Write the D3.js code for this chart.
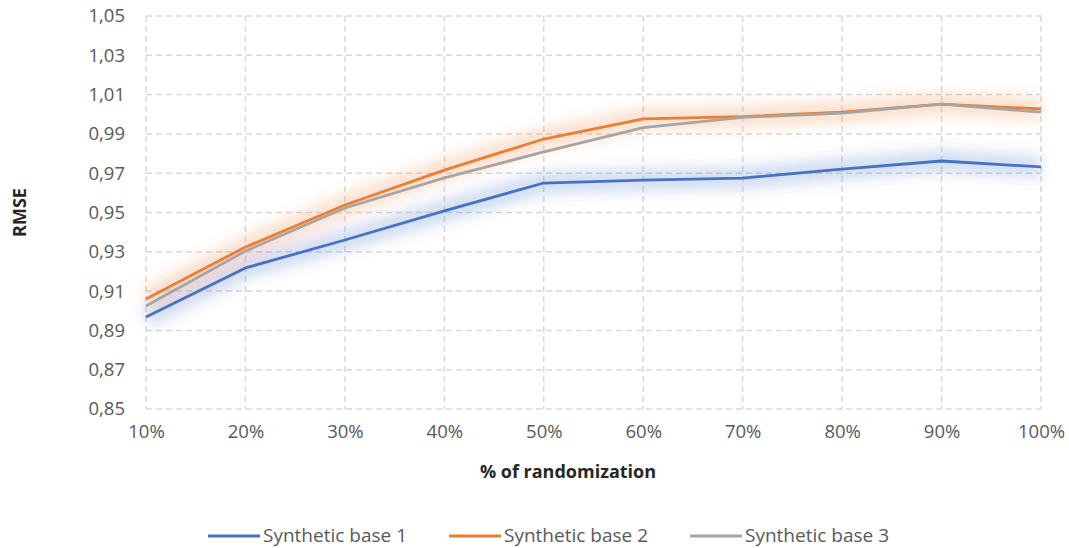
<!DOCTYPE html>
<html>
<head>
<meta charset="utf-8">
<script src="https://cdn.jsdelivr.net/npm/d3@7/dist/d3.min.js"></script>
<style>
  html, body { margin: 0; padding: 0; background: #fff; }
  svg { display: block; font-family: "Open Sans", "Noto Sans", sans-serif; }
</style>
</head>
<body>
<svg id="chart" width="1069" height="548"></svg>
<script>
// Randomization levels along the x axis
const categories = ["10%", "20%", "30%", "40%", "50%", "60%", "70%", "80%", "90%", "100%"];

// RMSE per randomization level
const base1 = [0.8968, 0.9218, 0.9360, 0.9508, 0.9650, 0.9665, 0.9675, 0.9721, 0.9762, 0.9732];
const base2 = [0.9060, 0.9324, 0.9538, 0.9716, 0.9874, 0.9976, 0.9988, 1.0011, 1.0052, 1.0027];
const base3 = [0.9024, 0.9304, 0.9523, 0.9676, 0.9808, 0.9932, 0.9984, 1.0006, 1.0052, 1.0011];

const seriesNames = ["Synthetic base 1", "Synthetic base 2", "Synthetic base 3"];
const seriesColors = ["#4472C4", "#ED7D31", "#A5A5A5"];

const yTicks = [0.85, 0.87, 0.89, 0.91, 0.93, 0.95, 0.97, 0.99, 1.01, 1.03, 1.05];

const series = [base1, base2, base3].map((values, i) => ({
  name: seriesNames[i], color: seriesColors[i], values
}));

const svg = d3.select("#chart");
const plot = { left: 146, right: 1041, top: 16, bottom: 409 };

const x = d3.scalePoint().domain(categories).range([plot.left, plot.right]);
const y = d3.scaleLinear().domain([0.85, 1.05]).range([plot.bottom, plot.top]);

const fmt = v => d3.format(".2f")(v).replace(".", ",");

// Soft glow behind the lines
const defs = svg.append("defs");
defs.append("filter").attr("id", "glow")
  .attr("x", "-10%").attr("y", "-60%").attr("width", "120%").attr("height", "220%")
  .append("feGaussianBlur").attr("stdDeviation", 7);

// Dashed grid (horizontal)
svg.append("g")
  .selectAll("line").data(yTicks).join("line")
  .attr("x1", plot.left).attr("x2", plot.right)
  .attr("y1", d => y(d)).attr("y2", d => y(d))
  .attr("stroke", "#d9d9d9").attr("stroke-width", 1.5)
  .attr("stroke-dasharray", "6,4");

// Dashed grid (vertical)
svg.append("g")
  .selectAll("line").data(categories).join("line")
  .attr("x1", d => x(d)).attr("x2", d => x(d))
  .attr("y1", plot.top).attr("y2", plot.bottom)
  .attr("stroke", "#d9d9d9").attr("stroke-width", 1.5)
  .attr("stroke-dasharray", "6,4");

const line = d3.line()
  .x((d, i) => x(categories[i]))
  .y(d => y(d));

// Glow bands for base 1 and base 2
const glowG = svg.append("g").attr("filter", "url(#glow)");
[series[0], series[1]].forEach(s => {
  glowG.append("path")
    .datum(s.values)
    .attr("d", line)
    .attr("fill", "none")
    .attr("stroke", s.color)
    .attr("stroke-opacity", 0.24)
    .attr("stroke-width", 22)
    .attr("stroke-linejoin", "round");
});

// Series lines
svg.append("g")
  .selectAll("path").data(series).join("path")
  .attr("d", d => line(d.values))
  .attr("fill", "none")
  .attr("stroke", d => d.color)
  .attr("stroke-width", 2.8)
  .attr("stroke-linejoin", "round");

// Y axis labels
const yAxis = d3.axisLeft(y).tickValues(yTicks).tickFormat(fmt).tickSize(0).tickPadding(21);
svg.append("g")
  .attr("transform", `translate(${plot.left},0)`)
  .call(yAxis)
  .call(g => g.select(".domain").remove())
  .selectAll("text")
  .attr("fill", "#595959")
  .style("font-size", "18.5px")
  .style("font-family", "'Open Sans', sans-serif");

// X axis labels
const xAxis = d3.axisBottom(x).tickSize(0).tickPadding(16);
svg.append("g")
  .attr("transform", `translate(0,${plot.bottom})`)
  .call(xAxis)
  .call(g => g.select(".domain").remove())
  .selectAll("text")
  .attr("fill", "#595959")
  .style("font-size", "18.5px")
  .style("font-family", "'Open Sans', sans-serif");

// Axis titles
svg.append("text")
  .attr("transform", `translate(20,${(plot.top + plot.bottom) / 2}) rotate(-90)`)
  .attr("text-anchor", "middle")
  .attr("dy", "0.35em")
  .attr("fill", "#262626")
  .style("font-size", "18px").style("font-weight", "bold")
  .text("RMSE");

svg.append("text")
  .attr("x", 568)
  .attr("y", 472)
  .attr("dy", "0.35em")
  .attr("text-anchor", "middle")
  .attr("fill", "#262626")
  .style("font-size", "18px").style("font-weight", "bold")
  .text("% of randomization");

// Legend
const legendX = [208, 449, 690];
const legend = svg.append("g")
  .selectAll("g").data(series).join("g")
  .attr("transform", (d, i) => `translate(${legendX[i]},536)`);
legend.append("line")
  .attr("x1", 0).attr("x2", 52).attr("y1", 0).attr("y2", 0)
  .attr("stroke", d => d.color).attr("stroke-width", 3);
legend.append("text")
  .attr("x", 55).attr("y", -1).attr("dy", "0.35em")
  .attr("fill", "#595959")
  .style("font-size", "19px")
  .text(d => d.name);
</script>
</body>
</html>
